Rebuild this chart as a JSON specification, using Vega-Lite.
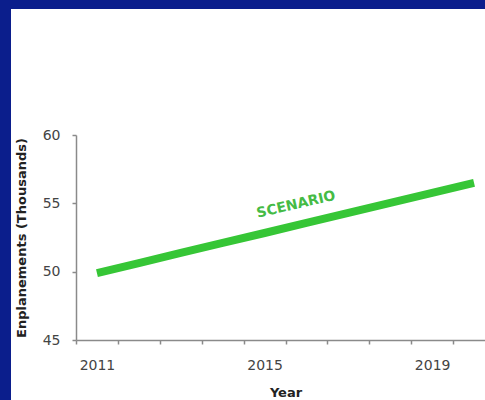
{
  "$schema": "https://vega.github.io/schema/vega-lite/v6.json",
  "autosize": "none",
  "width": 500,
  "height": 410,
  "padding": {"left": 2, "top": 0, "right": 0, "bottom": 0},
  "background": "white",
  "config": {
    "view": {"fill": "white", "stroke": "#0b1e8c", "strokeWidth": 18},
    "font": "DejaVu Sans",
    "axis": {
      "domainColor": "#8a8a8a",
      "domainWidth": 1.5,
      "tickColor": "#8a8a8a",
      "tickWidth": 1.5,
      "tickSize": 4,
      "grid": false,
      "labelFont": "DejaVu Sans",
      "labelFontSize": 14,
      "labelColor": "#444444",
      "titleFont": "DejaVu Sans",
      "titleFontSize": 13,
      "titleFontWeight": "bold",
      "titleColor": "#222222"
    }
  },
  "data": {
    "values": [
      {"Year": 2011, "Enplanements": 49.90, "Series": "SCENARIO"},
      {"Year": 2012, "Enplanements": 50.63, "Series": "SCENARIO"},
      {"Year": 2013, "Enplanements": 51.37, "Series": "SCENARIO"},
      {"Year": 2014, "Enplanements": 52.10, "Series": "SCENARIO"},
      {"Year": 2015, "Enplanements": 52.83, "Series": "SCENARIO"},
      {"Year": 2016, "Enplanements": 53.57, "Series": "SCENARIO"},
      {"Year": 2017, "Enplanements": 54.30, "Series": "SCENARIO"},
      {"Year": 2018, "Enplanements": 55.03, "Series": "SCENARIO"},
      {"Year": 2019, "Enplanements": 55.77, "Series": "SCENARIO"},
      {"Year": 2020, "Enplanements": 56.50, "Series": "SCENARIO"}
    ]
  },
  "encoding": {
    "x": {
      "field": "Year",
      "type": "ordinal",
      "bandPosition": 0.5,
      "scale": {"type": "band", "range": [74, 493], "paddingInner": 0, "paddingOuter": 0},
      "axis": {
        "title": "Year",
        "offset": -70,
        "tickBand": "extent",
        "labelAngle": 0,
        "labelPadding": 14,
        "titlePadding": 14,
        "labelExpr": "indexof([2011, 2015, 2019], datum.value) >= 0 ? datum.label : ''"
      }
    },
    "y": {
      "field": "Enplanements",
      "type": "quantitative",
      "scale": {"domain": [45, 60], "range": [340, 135], "nice": false, "zero": false},
      "axis": {
        "title": "Enplanements (Thousands)",
        "offset": -74,
        "values": [45, 50, 55, 60],
        "labelPadding": 12,
        "titlePadding": 14
      }
    }
  },
  "layer": [
    {
      "mark": {"type": "line", "color": "#36c636", "strokeWidth": 8, "strokeCap": "butt"}
    },
    {
      "transform": [{"filter": "datum.Year == 2016"}],
      "mark": {
        "type": "text",
        "angle": 347,
        "dx": -6,
        "dy": -20,
        "align": "center",
        "baseline": "middle",
        "fontSize": 14,
        "fontWeight": "bold",
        "color": "#45bb45"
      },
      "encoding": {"text": {"field": "Series"}}
    }
  ]
}
